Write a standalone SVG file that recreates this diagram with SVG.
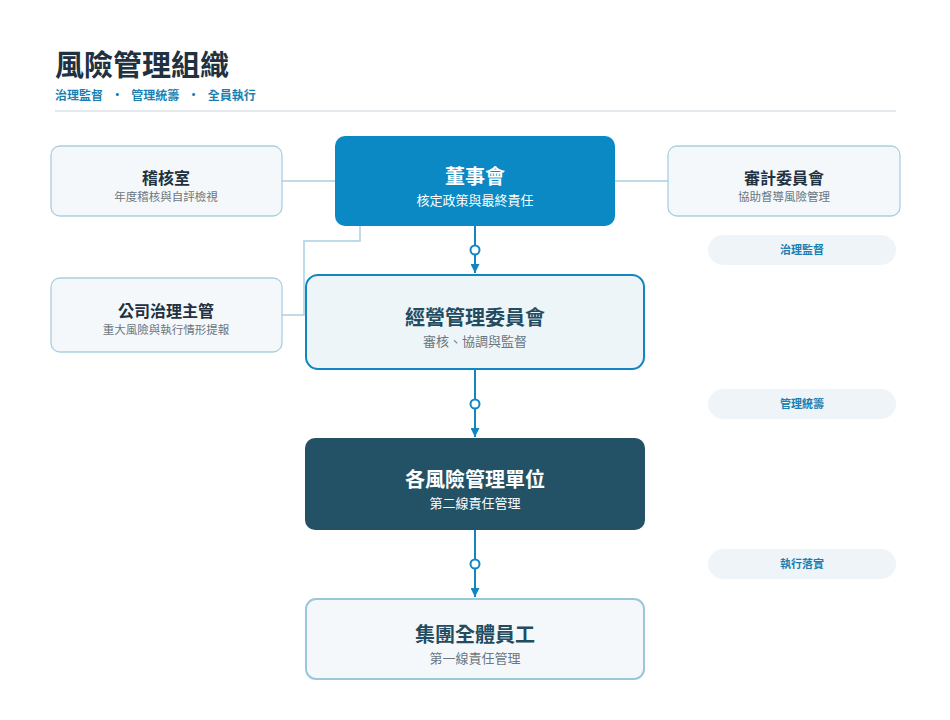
<svg xmlns="http://www.w3.org/2000/svg" width="950" height="720" viewBox="0 0 950 720">
<style>
text{font-family:"Noto Sans CJK TC","Noto Sans CJK SC",sans-serif;text-anchor:middle}
.t{font-weight:700;font-size:16px;fill:#22313f}
.s{font-size:11.5px;fill:#6b7680}
.side{fill:#f5f8fa;stroke:#a9cfe0;stroke-width:1.3}
.main{fill:#eef5f9;stroke:#1286c0;stroke-width:2}
.pill{fill:#eef4f8}
.pt{font-size:11px;font-weight:700;fill:#1a7fb0}
.c{fill:none;stroke:#a9cfe0;stroke-width:1.5}
.m{fill:none;stroke:#1286c0;stroke-width:2}
</style>
<defs><marker id="a" viewBox="0 0 10 10" refX="10" refY="5" markerWidth="12" markerHeight="9" markerUnits="userSpaceOnUse" orient="auto"><path d="M0,0L10,5L0,10z" fill="#1286c0"/></marker></defs>
<rect width="950" height="720" fill="#fff"/>
<g id="title">
<text x="55" y="76" style="text-anchor:start;font-size:29px;font-weight:700;fill:#22313f">風險管理組織</text>
<text x="55" y="100" style="text-anchor:start;font-size:12px;font-weight:700;fill:#1a7fb0" xml:space="preserve">治理監督   ·   管理統籌   ·   全員執行</text>
<line x1="55" y1="111" x2="896" y2="111" stroke="#c8d3da" stroke-width="1.2"/>
</g>
<g id="connectors">
<line class="c" x1="282" y1="181" x2="335" y2="181"/>
<line class="c" x1="615" y1="181" x2="668" y2="181"/>
<polyline class="c" points="360,226 360,241 304,241 304,315 282,315"/>
<line class="m" x1="475" y1="226" x2="475" y2="273" marker-end="url(#a)"/>
<line class="m" x1="475" y1="370" x2="475" y2="437" marker-end="url(#a)"/>
<line class="m" x1="475" y1="530" x2="475" y2="597" marker-end="url(#a)"/>
<circle cx="475" cy="250" r="4.5" fill="#fff" stroke="#1286c0" stroke-width="2"/>
<circle cx="475" cy="404" r="4.5" fill="#fff" stroke="#1286c0" stroke-width="2"/>
<circle cx="475" cy="564" r="4.5" fill="#fff" stroke="#1286c0" stroke-width="2"/>
</g>
<g id="audit"><rect class="side" x="51" y="146" width="231" height="70" rx="9"/><text class="t" x="166" y="184">稽核室</text><text class="s" x="166" y="201">年度稽核與自評檢視</text></g>
<g id="board"><rect x="335" y="136" width="280" height="90" rx="10" fill="#0a89c4"/><text class="t" x="475" y="184" style="fill:#fff;font-size:20px">董事會</text><text class="s" x="475" y="205" style="fill:#fff;font-size:13px">核定政策與最終責任</text></g>
<g id="auditcomm"><rect class="side" x="668" y="146" width="232" height="70" rx="9"/><text class="t" x="784" y="184">審計委員會</text><text class="s" x="784" y="201">協助督導風險管理</text></g>
<g id="gov"><rect class="side" x="51" y="278" width="231" height="74" rx="9"/><text class="t" x="166" y="317">公司治理主管</text><text class="s" x="166" y="334">重大風險與執行情形提報</text></g>
<g id="mgmt"><rect class="main" x="306" y="275" width="338" height="94" rx="12"/><text class="t" x="475" y="325" style="font-size:20px;fill:#234c61">經營管理委員會</text><text class="s" x="475" y="346" style="font-size:13px">審核、協調與監督</text></g>
<g id="units"><rect x="305" y="438" width="340" height="92" rx="10" fill="#235266"/><text class="t" x="475" y="487" style="font-size:20px;fill:#fff">各風險管理單位</text><text class="s" x="475" y="508" style="font-size:13px;fill:#fff">第二線責任管理</text></g>
<g id="staff"><rect class="side" x="306" y="599" width="338" height="80" rx="10" style="stroke:#9cc6da;stroke-width:2"/><text class="t" x="475" y="642" style="font-size:20px;fill:#234c61">集團全體員工</text><text class="s" x="475" y="663" style="font-size:13px">第一線責任管理</text></g>
<g id="pill1"><rect class="pill" x="708" y="235" width="188" height="30" rx="15"/><text class="pt" x="802" y="254">治理監督</text></g>
<g id="pill2"><rect class="pill" x="708" y="389" width="188" height="30" rx="15"/><text class="pt" x="802" y="408">管理統籌</text></g>
<g id="pill3"><rect class="pill" x="708" y="549" width="188" height="30" rx="15"/><text class="pt" x="802" y="568">執行落實</text></g>
</svg>
